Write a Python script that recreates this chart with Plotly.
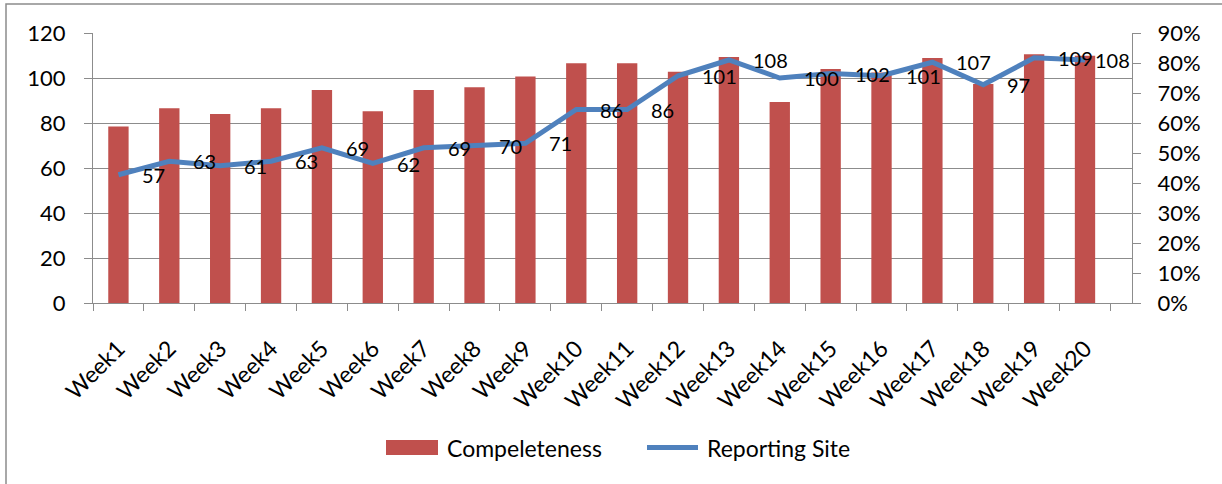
import plotly.graph_objects as go

weeks = [f"Week{i}" for i in range(1, 21)]
completeness = [78.4, 86.6, 84.0, 86.6, 94.7, 85.2, 94.7, 95.9, 100.7, 106.6,
                106.6, 102.8, 109.3, 89.3, 104.0, 102.5, 108.9, 97.3, 110.6, 109.9]
reporting_site = [57, 63, 61, 63, 69, 62, 69, 70, 71, 86,
                  86, 101, 108, 100, 102, 101, 107, 97, 109, 108]
left_ticks = [0, 20, 40, 60, 80, 100, 120]
right_tick_labels = [f"{p}%" for p in range(0, 100, 10)]

FONT = "Lato"
GRID = "#8c8c8c"
BAR_COLOR = "#C0504D"
LINE_COLOR = "#4F81BD"

# plot area in pixels (figure coordinates)
L, T, R, B = 93, 33, 90, 181
W, H = 1222, 484
PW, PH = W - L - R, H - T - B


def px(x):
    return (x - L) / PW


def py(y):
    return (H - B - y) / PH


fig = go.Figure()
fig.add_trace(go.Bar(x=weeks, y=completeness, name="Compeleteness",
                     marker=dict(color=BAR_COLOR, line=dict(width=0)), yaxis="y"))
fig.add_trace(go.Scatter(x=weeks, y=reporting_site, name="Reporting Site", mode="lines",
                         line=dict(color=LINE_COLOR, width=5), yaxis="y2"))

annotations = []
for i, (w, v) in enumerate(zip(weeks, reporting_site)):
    annotations.append(dict(x=w, y=v, xref="x", yref="y2", text=str(v), showarrow=False,
                            xanchor="left", yanchor="middle",
                            xshift=8 if i == len(weeks) - 1 else 22,
                            font=dict(family=FONT, size=20, color="black")))

# custom legend (wide swatches like the original)
legend_y = py(447.5)
annotations += [
    dict(x=px(445), y=legend_y, xref="paper", yref="paper", text="Compeleteness",
         showarrow=False, xanchor="left", yanchor="middle",
         font=dict(family=FONT, size=23, color="black")),
    dict(x=px(705), y=legend_y, xref="paper", yref="paper", text="Reporting Site",
         showarrow=False, xanchor="left", yanchor="middle",
         font=dict(family=FONT, size=23, color="black")),
]

shapes = [
    dict(type="rect", xref="paper", yref="paper", x0=px(6), x1=px(1260),
         y0=py(520), y1=py(4), line=dict(color=GRID, width=1.5),
         fillcolor="rgba(0,0,0,0)", layer="below"),
    dict(type="rect", xref="paper", yref="paper", x0=px(386), x1=px(438),
         y0=py(455), y1=py(440), line=dict(width=0), fillcolor=BAR_COLOR),
    dict(type="line", xref="paper", yref="paper", x0=px(647), x1=px(698),
         y0=legend_y, y1=legend_y, line=dict(color=LINE_COLOR, width=5)),
]

fig.update_layout(
    width=W, height=H,
    margin=dict(l=L, r=R, t=T, b=B, autoexpand=False),
    plot_bgcolor="white", paper_bgcolor="white",
    font=dict(family=FONT, size=20, color="black"),
    bargap=0.6,
    showlegend=False,
    xaxis=dict(type="category", tickangle=-45, showline=True, linecolor=GRID, linewidth=1,
               ticks="outside", ticklen=7, tickcolor=GRID, tickson="boundaries",
               tickfont=dict(family=FONT, size=23), showgrid=False, ticklabelstandoff=22,
               automargin=False),
    yaxis=dict(range=[0, 120], tickvals=left_ticks, showgrid=True, gridcolor=GRID, gridwidth=1,
               showline=True, linecolor=GRID, ticks="outside", ticklen=8, tickcolor=GRID,
               zeroline=False, tickfont=dict(family=FONT, size=22), ticklabelstandoff=14,
               automargin=False),
    yaxis2=dict(range=[0, 120], overlaying="y", side="right",
                tickvals=[i * 120 / 9 for i in range(10)], ticktext=right_tick_labels,
                showgrid=False, showline=True, linecolor=GRID, ticks="outside", ticklen=8,
                tickcolor=GRID, zeroline=False, tickfont=dict(family=FONT, size=22),
                ticklabelstandoff=12, automargin=False),
    annotations=annotations,
    shapes=shapes,
)

fig.write_html("out.html", config={"displayModeBar": False},
               post_script="document.body.style.margin='0';")
